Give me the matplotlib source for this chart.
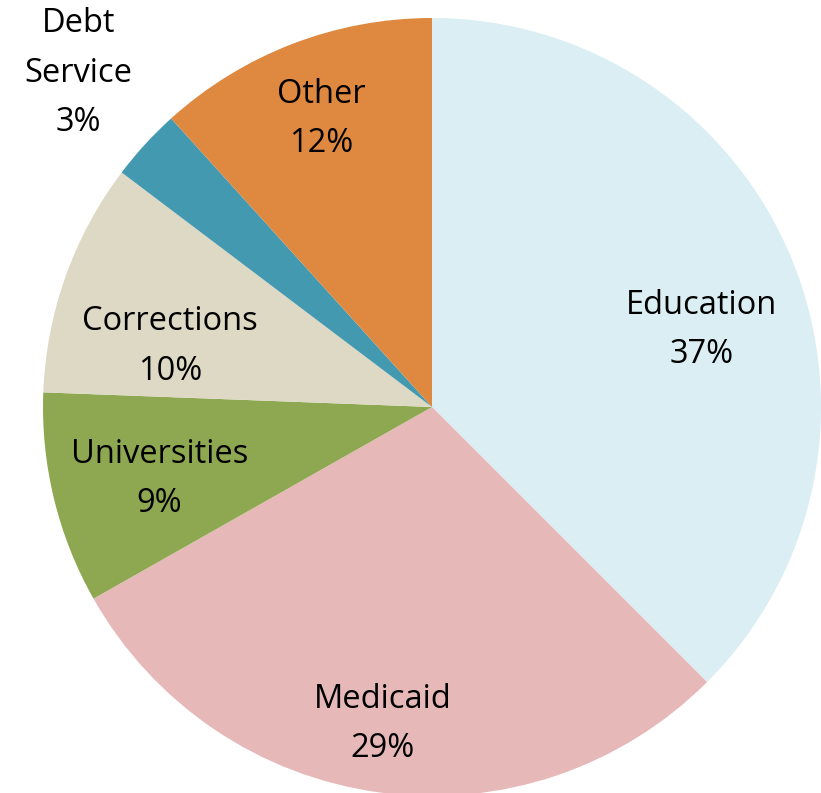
import numpy as np
import matplotlib.pyplot as plt

# budget shares, clockwise from 12 o'clock
categories = ['Education', 'Medicaid', 'Universities', 'Corrections', 'Debt\nService', 'Other']
shares = [37.5, 29.3, 8.8, 9.7, 3.0, 11.7]
pct_labels = ['37%', '29%', '9%', '10%', '3%', '12%']
colors = ['#DAEEF3', '#E6B9B8', '#8EA851', '#DDD9C4', '#4399B0', '#DE8840']
# label placement: radius fraction and angle nudge (deg) from wedge middle
label_dist = [0.72, 0.825, 0.724, 0.692, 1.25, 0.793]
label_nudge = [-6.5, -1.1, 1.1, 6.6, -0.9, 0.0]

W, H = 821, 793
fig = plt.figure(figsize=(W / 100, H / 100), dpi=100)
cx, cy, r = 432, 407, 389
ax = fig.add_axes([(cx - r) / W, (H - cy - r) / H, 2 * r / W, 2 * r / H])

wedges, _ = ax.pie(shares, colors=colors, startangle=90, counterclock=False,
                   wedgeprops=dict(linewidth=0))
ax.set_xlim(-1, 1)
ax.set_ylim(-1, 1)
ax.axis('off')

for w, cat, pct, d, nd in zip(wedges, categories, pct_labels, label_dist, label_nudge):
    ang = np.deg2rad((w.theta1 + w.theta2) / 2 + nd)
    ax.text(d * np.cos(ang), d * np.sin(ang), f'{cat}\n{pct}', ha='center', va='center',
            fontsize=23.5, family='Open Sans', linespacing=1.66, color='black', clip_on=False)

fig.savefig('out.png', dpi=100)
